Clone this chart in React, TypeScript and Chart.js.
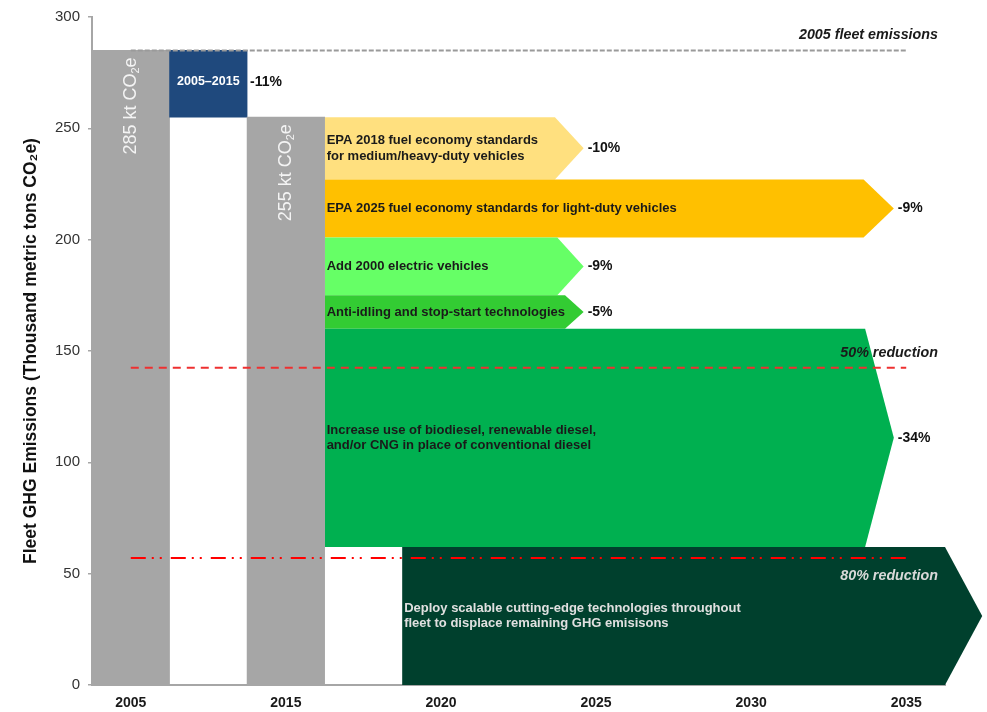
import React, { useEffect, useRef } from 'react';
import { Chart, registerables } from 'chart.js';

Chart.register(...registerables);

const FONT = "'Liberation Sans', Arial, Helvetica, sans-serif";

// x slots (category axis); only some slots carry a year label
const slotLabels = ['2005', '', '2015', '', '2020', '', '2025', '', '2030', '', '2035'];
const yTicks = [0, 50, 100, 150, 200, 250, 300];

// baseline / change bars (thousand metric tons CO2e), floating ranges
const baselineRanges: [number, number][] = [[0, 285], [255, 285], [0, 255]];
const baselineColors = ['#A6A6A6', '#1F497D', '#A6A6A6'];
const intervalLabel = '2005–2015';
const intervalChange = '-11%';

// reduction wedges (arrows)
const wedgeLabels = [
  'EPA 2018 fuel economy standards\nfor medium/heavy-duty vehicles',
  'EPA 2025 fuel economy standards for light-duty vehicles',
  'Add 2000 electric vehicles',
  'Anti-idling and stop-start technologies',
  'Increase use of biodiesel, renewable diesel,\nand/or CNG in place of conventional diesel',
  'Deploy scalable cutting-edge technologies throughout\nfleet to displace remaining GHG emisisons',
];
const wedgePercent = ['-10%', '-9%', '-9%', '-5%', '-34%', ''];
const wedgeTop = [255, 227, 201, 175, 160, 62];
const wedgeBottom = [227, 201, 175, 160, 62, 0];
const wedgeStart = [2.5, 2.5, 2.5, 2.5, 2.5, 3.5];
const wedgeBodyEnd = [5.47, 9.45, 5.5, 5.6, 9.47, 10.5];
const wedgeTip = [5.84, 9.84, 5.84, 5.84, 9.84, 10.98];
const wedgeColors = ['#FFE07F', '#FFC000', '#66FF66', '#33CC33', '#00B050', '#00402D'];
const wedgeTextColors = ['#1a1a1a', '#1a1a1a', '#1a1a1a', '#1a1a1a', '#1a1a1a', '#e0e0e0'];

// reference levels
const refLevels = [285, 142.5, 57];
const refNames = ['2005 fleet emissions', '50% reduction', '80% reduction'];
const refFrom = 0;
const refTo = 10;

const yTitle = 'Fleet GHG Emissions (Thousand metric tons CO₂e)';

const overlayPlugin = {
  id: 'overlay',
  beforeDatasetsDraw(chart: any) {
    const { ctx } = chart;
    const xs = chart.scales.x2;
    const ys = chart.scales.y;
    ctx.save();
    for (let i = 0; i < wedgeTop.length; i++) {
      const x0 = xs.getPixelForValue(wedgeStart[i]);
      const x1 = xs.getPixelForValue(wedgeBodyEnd[i]);
      const x2 = xs.getPixelForValue(wedgeTip[i]);
      const yt = ys.getPixelForValue(wedgeTop[i]);
      const yb = ys.getPixelForValue(wedgeBottom[i]);
      ctx.fillStyle = wedgeColors[i];
      ctx.beginPath();
      ctx.moveTo(x0, yt);
      ctx.lineTo(x1, yt);
      ctx.lineTo(x2, (yt + yb) / 2);
      ctx.lineTo(x1, yb);
      ctx.lineTo(x0, yb);
      ctx.closePath();
      ctx.fill();
    }
    ctx.restore();
  },
  afterDatasetsDraw(chart: any) {
    const { ctx, chartArea } = chart;
    const xs = chart.scales.x2;
    const ys = chart.scales.y;
    const bars = chart.getDatasetMeta(0).data;
    ctx.save();

    // wedge texts
    for (let i = 0; i < wedgeTop.length; i++) {
      const x0 = xs.getPixelForValue(wedgeStart[i]);
      const x2 = xs.getPixelForValue(wedgeTip[i]);
      const yt = ys.getPixelForValue(wedgeTop[i]);
      const yb = ys.getPixelForValue(wedgeBottom[i]);
      const mid = (yt + yb) / 2;
      const lines = wedgeLabels[i].split('\n');
      ctx.font = `bold 13px ${FONT}`;
      ctx.fillStyle = wedgeTextColors[i];
      ctx.textAlign = 'left';
      ctx.textBaseline = 'middle';
      lines.forEach((ln, k) => {
        ctx.fillText(ln, x0 + 2, mid + (k - (lines.length - 1) / 2) * 15.5);
      });
      if (wedgePercent[i]) {
        ctx.font = `bold 14px ${FONT}`;
        ctx.fillStyle = '#111';
        ctx.fillText(wedgePercent[i], x2 + 4, mid);
      }
    }

    // baseline bars: rotated totals
    [0, 2].forEach((i) => {
      const b = bars[i];
      if (!b) return;
      const topPx = ys.getPixelForValue(baselineRanges[i][1]);
      const main = `${baselineRanges[i][1]} kt CO`;
      ctx.save();
      ctx.translate(b.x, topPx + 7);
      ctx.rotate(-Math.PI / 2);
      ctx.textAlign = 'left';
      ctx.textBaseline = 'middle';
      ctx.fillStyle = '#f4f4f4';
      ctx.font = `18px ${FONT}`;
      const w1 = ctx.measureText(main).width;
      const w3 = ctx.measureText('e').width;
      ctx.font = `11px ${FONT}`;
      const w2 = ctx.measureText('2').width;
      let x = -(w1 + w2 + w3);
      ctx.font = `18px ${FONT}`;
      ctx.fillText(main, x, 0);
      x += w1;
      ctx.font = `11px ${FONT}`;
      ctx.fillText('2', x, 5);
      x += w2;
      ctx.font = `18px ${FONT}`;
      ctx.fillText('e', x, 0);
      ctx.restore();
    });

    // interval bar label + change
    const ib = bars[1];
    if (ib) {
      const yMid = (ys.getPixelForValue(baselineRanges[1][0]) + ys.getPixelForValue(baselineRanges[1][1])) / 2 - 2;
      ctx.font = `bold 12.5px ${FONT}`;
      ctx.fillStyle = '#ffffff';
      ctx.textAlign = 'center';
      ctx.textBaseline = 'middle';
      ctx.fillText(intervalLabel, ib.x, yMid);
      ctx.font = `bold 14px ${FONT}`;
      ctx.fillStyle = '#111';
      ctx.textAlign = 'left';
      ctx.fillText(intervalChange, ib.x + ib.width / 2 + 3, yMid);
    }

    // reference line labels
    ctx.font = `italic bold 14.3px ${FONT}`;
    ctx.textAlign = 'right';
    ctx.textBaseline = 'middle';
    refNames.forEach((name, i) => {
      const py = ys.getPixelForValue(refLevels[i]);
      const below = i === 2;
      ctx.fillStyle = below ? '#d9d9d9' : '#1a1a1a';
      ctx.fillText(name, chartArea.right - 7, below ? py + 18 : py - 15);
    });
    ctx.restore();
  },
};

export default function App() {
  const ref = useRef<HTMLCanvasElement | null>(null);

  useEffect(() => {
    if (!ref.current) return;
    const refStyles = [
      { color: '#9a9a9a', dash: [5, 2], width: 2 },
      { color: '#ee3030', dash: [8, 6], width: 2 },
      { color: '#ff0000', dash: [15, 6, 2, 6, 2, 9], width: 2 },
    ];
    const lineSets = refLevels.map((lvl, i) => ({
      type: 'line' as const,
      xAxisID: 'x2',
      yAxisID: 'y',
      data: [
        { x: refFrom, y: lvl },
        { x: refTo, y: lvl },
      ],
      borderColor: refStyles[i].color,
      borderDash: refStyles[i].dash,
      borderWidth: refStyles[i].width,
      pointRadius: 0,
      fill: false,
      order: 1,
    }));

    const chart = new Chart(ref.current, {
      type: 'bar',
      data: {
        labels: slotLabels,
        datasets: [
          {
            type: 'bar',
            xAxisID: 'x',
            yAxisID: 'y',
            data: baselineRanges as any,
            backgroundColor: baselineColors,
            borderWidth: 0,
            barPercentage: 1,
            categoryPercentage: 1,
            grouped: false,
            order: 2,
          } as any,
          ...(lineSets as any[]),
        ],
      },
      options: {
        animation: false,
        responsive: false,
        layout: { padding: { top: 15, right: 42, bottom: 0, left: 0 } },
        plugins: { legend: { display: false }, tooltip: { enabled: false } },
        scales: {
          x: {
            type: 'category',
            offset: true,
            grid: { display: false, drawTicks: false },
            border: { color: '#a6a6a6', width: 2 },
            ticks: {
              autoSkip: false,
              maxRotation: 0,
              minRotation: 0,
              padding: 10,
              color: '#1a1a1a',
              font: { family: FONT, size: 14, weight: 'bold' },
            },
            afterFit: (s: any) => {
              s.height = 27;
            },
          },
          x2: {
            type: 'linear',
            min: -0.5,
            max: 10.5,
            offset: false,
            display: false,
          },
          y: {
            type: 'linear',
            min: 0,
            max: 300,
            afterBuildTicks: (s: any) => {
              s.ticks = yTicks.map((v) => ({ value: v }));
            },
            grid: { drawOnChartArea: false, tickLength: 4, color: '#a6a6a6', lineWidth: 1.5 },
            border: { color: '#a6a6a6', width: 2 },
            ticks: { padding: 8, color: '#333', font: { family: FONT, size: 15 } },
            title: {
              display: true,
              text: yTitle,
              color: '#111',
              font: { family: FONT, size: 17.5, weight: 'bold' },
              padding: { top: 21, bottom: 0 },
            },
            afterFit: (s: any) => {
              s.width = 92;
            },
          },
        } as any,
      },
      plugins: [overlayPlugin],
    } as any);
    return () => chart.destroy();
  }, []);

  return (
    <div style={{ position: 'absolute', left: 0, top: 0, width: 987, height: 712, background: '#fff' }}>
      <canvas ref={ref} width={987} height={712} style={{ display: 'block' }} />
    </div>
  );
}
